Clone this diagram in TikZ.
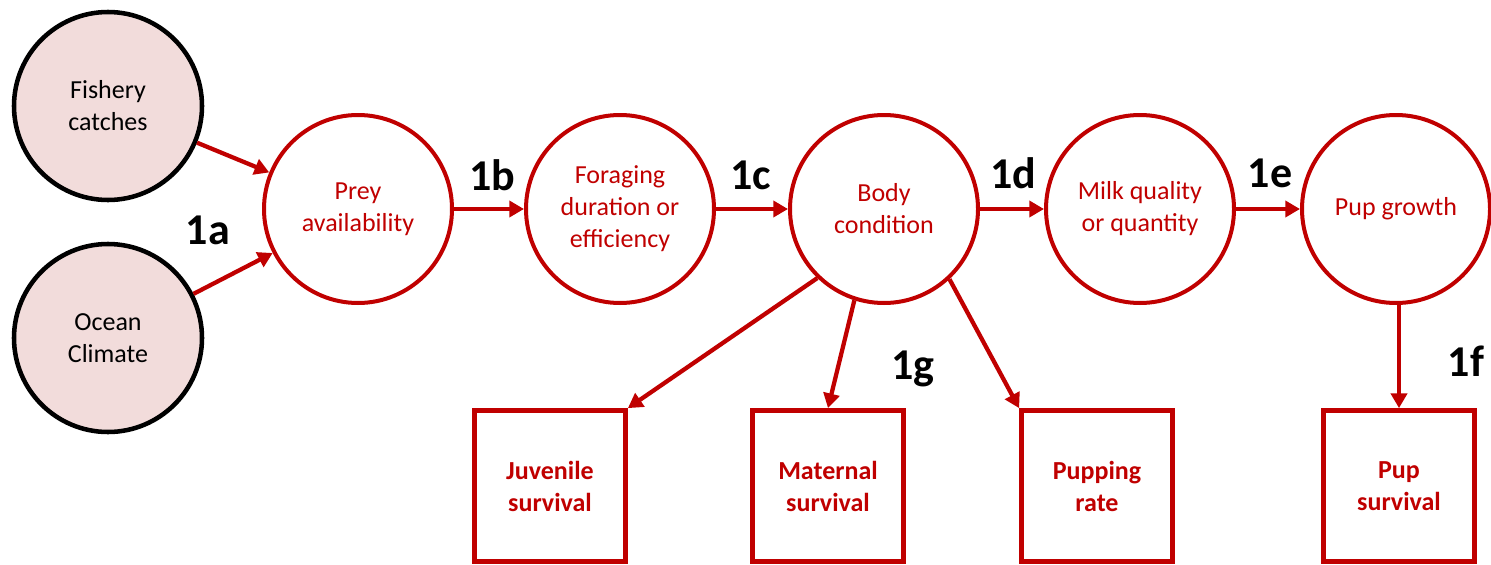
\documentclass[tikz,border=0pt]{standalone}
\usepackage{fontspec}
\setmainfont{Carlito}
\usetikzlibrary{arrows.meta}
\definecolor{darkred}{RGB}{192,0,0}
\definecolor{pinkfill}{RGB}{242,220,219}

\begin{document}
\begin{tikzpicture}[x=0.75pt,y=-0.75pt,
  driver/.style={circle,draw=black,fill=pinkfill,line width=3.4pt,minimum size=141pt,inner sep=0pt,align=center,font=\fontsize{19.5}{24}\selectfont},
  stage/.style={circle,draw=darkred,line width=3pt,minimum size=141pt,inner sep=0pt,align=center,text=darkred,font=\fontsize{19.5}{24}\selectfont},
  outcome/.style={rectangle,draw=darkred,line width=3.8pt,minimum size=113pt,inner sep=0pt,align=center,text=darkred,font=\bfseries\fontsize{19.5}{24}\selectfont},
  link/.style={draw=darkred,line width=3.2pt,-{Triangle[length=11pt,width=12pt]}},
  tag/.style={font=\bfseries\fontsize{33}{36}\selectfont}]
\useasboundingbox (0,0) rectangle (1491,564);
% drivers
\node[driver] (fishery) at (108,106) {Fishery\\catches};
\node[driver] (ocean) at (108,338) {Ocean\\Climate};
% chain of circles
\node[stage] (prey) at (358,209) {Prey\\availability};
\node[stage] (forage) at (620,209) {Foraging\\duration or\\efficiency};
\node[stage] (body) at (884,209) {Body\\condition};
\node[stage] (milk) at (1140,209) {Milk quality\\or quantity};
\node[stage] (growth) at (1396,209) {Pup growth};
% outcomes
\node[outcome] (juvenile) at (550,486) {Juvenile\\survival};
\node[outcome] (maternal) at (828,486) {Maternal\\survival};
\node[outcome] (pupping) at (1097,486) {Pupping\\rate};
\node[outcome] (pupsurv) at (1399,486) {Pup\\survival};
% links
\draw[link] (fishery) -- (prey);
\draw[link] (ocean) -- (prey);
\draw[link] (prey) -- (forage);
\draw[link] (forage) -- (body);
\draw[link] (body) -- (milk);
\draw[link] (milk) -- (growth);
\draw[link] (body.-134) -- (juvenile.north east);
\draw[link] (body.-108) -- (maternal.north);
\draw[link] (body.-47) -- (pupping.north west);
\draw[link] (growth.south -| pupsurv.north) -- (pupsurv.north);
% tags
\node[tag] (t1a) at (208,230) {1a};
\node[tag] (t1b) at (492,175) {1b};
\node[tag] (t1c) at (751,175) {1c};
\node[tag] (t1d) at (1013,173) {1d};
\node[tag] (t1e) at (1270,173) {1e};
\node[tag] (t1f) at (1466,361) {1f};
\node[tag] (t1g) at (913,369) {1g};
\end{tikzpicture}
\end{document}
